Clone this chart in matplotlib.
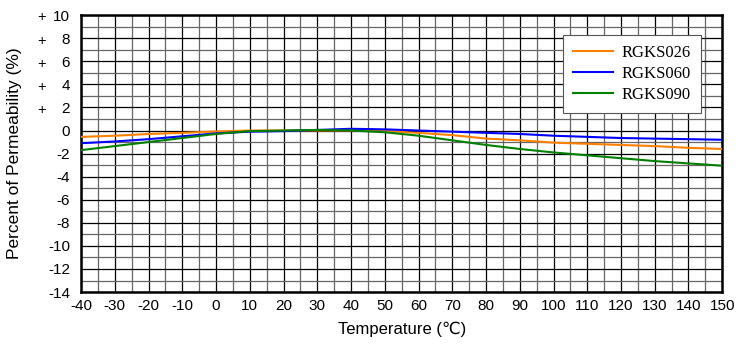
import numpy as np
import matplotlib.pyplot as plt
from matplotlib.ticker import MultipleLocator
import matplotlib.transforms as mtransforms

temps = [-40, -30, -20, -10, 0, 10, 20, 30, 40, 50, 60, 70, 80, 90, 100, 110, 120, 130, 140, 150]
rgks026 = [-0.55, -0.45, -0.3, -0.2, -0.08, 0, 0, 0, 0, -0.05, -0.2, -0.4, -0.7, -0.85, -1.05, -1.15, -1.25, -1.35, -1.5, -1.6]
rgks060 = [-1.1, -0.95, -0.75, -0.5, -0.25, -0.1, -0.05, 0.05, 0.15, 0.1, 0, -0.1, -0.2, -0.3, -0.45, -0.55, -0.65, -0.7, -0.75, -0.8]
rgks090 = [-1.7, -1.35, -1.0, -0.65, -0.3, -0.05, 0, 0.05, 0, -0.15, -0.45, -0.85, -1.25, -1.6, -1.9, -2.15, -2.4, -2.65, -2.85, -3.05]

series = [("RGKS026", rgks026, "#ff7f00"),
          ("RGKS060", rgks060, "#0000ff"),
          ("RGKS090", rgks090, "#008000")]

yticks = list(range(10, -15, -2))

plt.rcParams['font.family'] = ['Liberation Sans', 'DejaVu Sans']
plt.rcParams['axes.unicode_minus'] = False

fig = plt.figure(figsize=(7.4, 3.44), dpi=100)
ax = fig.add_axes([0.1095, 0.151, 0.8665, 0.805])

for name, vals, col in series:
    ax.plot(temps, vals, color=col, lw=1.5, label=name, zorder=3)

ax.set_xlim(-40, 150)
ax.set_ylim(-14, 10)
ax.xaxis.set_major_locator(MultipleLocator(10))
ax.xaxis.set_minor_locator(MultipleLocator(5))
ax.set_yticks(yticks)
ax.yaxis.set_minor_locator(MultipleLocator(1))
ax.grid(which='major', color='black', lw=0.9)
ax.grid(which='minor', color='#666666', lw=0.9)
ax.set_axisbelow(True)
ax.tick_params(which='both', length=0, labelsize=11)
ax.tick_params(axis='y', pad=8)
ax.tick_params(axis='x', pad=5)
for s in ax.spines.values():
    s.set_linewidth(1.8)

# plus signs in front of the positive labels
trans = mtransforms.blended_transform_factory(fig.transFigure, ax.transData)
for v in yticks:
    if v > 0:
        ax.text(42 / 740, v - 0.2, "+", transform=trans, ha='center', va='center', fontsize=10.5)

ax.set_xlabel("Temperature (℃)", fontsize=12, labelpad=6)
ax.set_ylabel("Percent of Permeability (%)", fontsize=12.5)
ax.yaxis.set_label_coords(-0.092, 0.5)

leg = ax.legend(loc='upper right', bbox_to_anchor=(0.967, 0.93), borderaxespad=0,
                fancybox=False, edgecolor='#555555', framealpha=1, handlelength=2.4,
                prop={'family': 'Liberation Serif', 'size': 12},
                borderpad=0.6, labelspacing=0.3, handletextpad=0.55)
leg.get_frame().set_linewidth(0.8)

fig.savefig("out.png", dpi=100)
